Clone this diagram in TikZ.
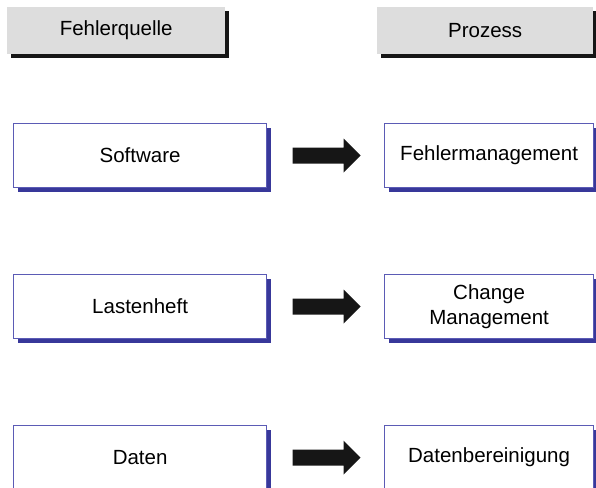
\documentclass[tikz,border=0pt]{standalone}
\usepackage{fontspec}
\setmainfont{Liberation Sans}
\usetikzlibrary{shadows,calc}
\definecolor{hdrgray}{HTML}{DDDDDD}
\definecolor{hdrshadow}{HTML}{161616}
\definecolor{boxline}{HTML}{5B5BB5}
\definecolor{boxshadow}{HTML}{38389A}
\definecolor{arrowblk}{HTML}{161616}
\begin{document}
\begin{tikzpicture}[x=1pt,y=1pt,
  font=\fontsize{20.5}{25}\selectfont,
  header/.style={anchor=north west, fill=hdrgray, minimum width=218pt,
    minimum height=47pt, inner sep=0pt,
    drop shadow={shadow xshift=4pt, shadow yshift=-4pt, fill=hdrshadow, opacity=1}},
  item/.style={anchor=north west, draw=boxline, line width=1.2pt, fill=white,
    minimum height=64pt, inner sep=0pt, align=center,
    drop shadow={shadow xshift=4pt, shadow yshift=-4pt, fill=boxshadow, opacity=1}},
  src/.style={item, minimum width=253pt},
  dst/.style={item, minimum width=209pt},
  blockarrow/.style={fill=arrowblk, draw=none}]
\useasboundingbox (0,0) rectangle (596,-487);

% column headers
\node[header] (hsrc) at (7,-7) {Fehlerquelle};
\node[header, minimum width=216pt] (hproc) at (377,-7) {Prozess};

% error sources and the matching processes
\node[src] (s1) at (13,-123) {Software};
\node[dst] (p1) at (384,-123) {Fehlermanagement};
\node[src] (s2) at (13,-274) {Lastenheft};
\node[dst] (p2) at (384,-274) {Change\\Management};
\node[src] (s3) at (13,-425) {Daten};
\node[dst] (p3) at (384,-425) {Datenbereinigung};

% block arrows centred between each pair
\foreach \i in {1,2,3}{
  \coordinate (m\i) at ($(s\i.east)!0.5!(p\i.west)+(1,0)$);
  \fill[blockarrow] (m\i) ++(-34,8) -- ++(51,0) -- ++(0,9) -- ++(17,-17)
    -- ++(-17,-17) -- ++(0,9) -- ++(-51,0) -- cycle;
}
\end{tikzpicture}
\end{document}
